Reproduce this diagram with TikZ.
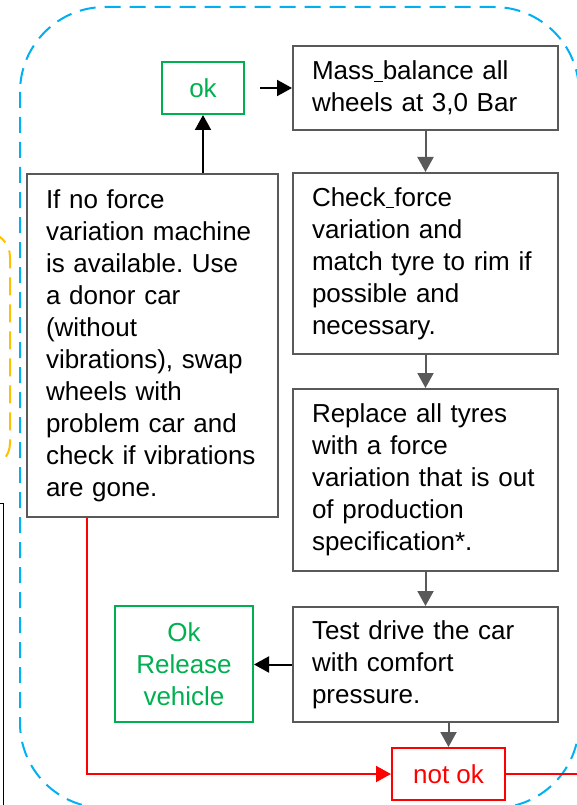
\documentclass[tikz,border=0pt]{standalone}
\usepackage{fontspec}
\setmainfont{Liberation Sans}
\frenchspacing
\usetikzlibrary{arrows.meta}
\definecolor{boxgray}{HTML}{595959}
\definecolor{okgreen}{HTML}{00B050}
\definecolor{nokred}{HTML}{FF0000}
\definecolor{frameblue}{HTML}{00B0F0}
\definecolor{markyellow}{HTML}{FFC000}
\tikzset{
  every node/.style={font=\fontsize{26pt}{32pt}\selectfont},
  stepbox/.style={draw=boxgray,line width=2pt,align=left,inner xsep=19pt,inner ysep=0pt,text width=#1},
  okbox/.style={draw=okgreen,text=okgreen,line width=2pt,align=center,inner sep=0pt},
  nokbox/.style={draw=nokred,text=nokred,line width=2pt,inner sep=0pt},
  grayarrow/.style={draw=boxgray,line width=2pt,-{Triangle[length=15pt,width=16pt]}},
  blackarrow/.style={line width=2pt,-{Triangle[length=15pt,width=16pt]}},
  redline/.style={draw=nokred,line width=2pt},
  blueframe/.style={draw=frameblue,line width=2pt,dash pattern=on 16pt off 9pt,rounded corners=85pt},
}
\begin{document}
\begin{tikzpicture}[x=1pt,y=-1pt]
	\useasboundingbox (0,0) rectangle (577,805);
	% frames at the edges
	\draw[blueframe] (20,7) rectangle (579,808);
	\draw[markyellow,line width=2pt,dash pattern=on 18pt off 9pt,rounded corners=25pt] (-60,232) rectangle (10,468);
	\draw[line width=1pt] (-60,503) rectangle (3,900);
	% steps on the right
	\node[stepbox=227pt,minimum height=84pt] (mass) at (425.5,88) {Mass\underline{\ }balance all\\wheels at 3,0 Bar};
	\node[stepbox=227pt,minimum height=181pt] (check) at (425.5,263.5) {Check\underline{\ }force\\variation and\\match tyre to rim if\\possible and\\necessary.};
	\node[stepbox=227pt,minimum height=182pt] (replace) at (425.5,480) {Replace all tyres\\with a force\\variation that is out\\of production\\specification*.};
	\node[stepbox=227pt,minimum height=115pt] (test) at (425.5,664.5) {Test drive the car\\with comfort\\pressure.};
	% left side
	\node[stepbox=213pt,minimum height=343pt] (donor) at (152.5,345.5) {If no force\\variation machine\\is available. Use\\a donor car\\(without\\vibrations), swap\\wheels with\\problem car and\\check if vibrations\\are gone.};
	\node[okbox,minimum width=82pt,minimum height=52pt] (ok) at (203,88) {ok};
	\node[okbox,minimum width=138pt,minimum height=116pt] (release) at (184,664) {Ok\\Release\\vehicle};
	\node[nokbox,minimum width=113pt,minimum height=52pt] (notok) at (448.5,774) {not ok};
	\coordinate (bend) at (87,774);
	\coordinate (exit) at (590,774);
	% connectors
	\draw[grayarrow] (mass) -- (check);
	\draw[grayarrow] (check) -- (replace);
	\draw[grayarrow] (replace) -- (test);
	\draw[grayarrow] (notok.north |- test.south) -- (notok.north);
	\draw[blackarrow] (test.west) -- (test.west -| release.east);
	\draw[blackarrow] (ok.south |- donor.north) -- (ok.south);
	\draw[blackarrow,shorten <=15pt] (ok) -- (mass);
	\draw[redline,-{Triangle[length=15pt,width=16pt]}] (donor.south -| bend) -- (bend) -- (notok);
	\draw[redline] (notok) -- (exit);
\end{tikzpicture}
\end{document}
